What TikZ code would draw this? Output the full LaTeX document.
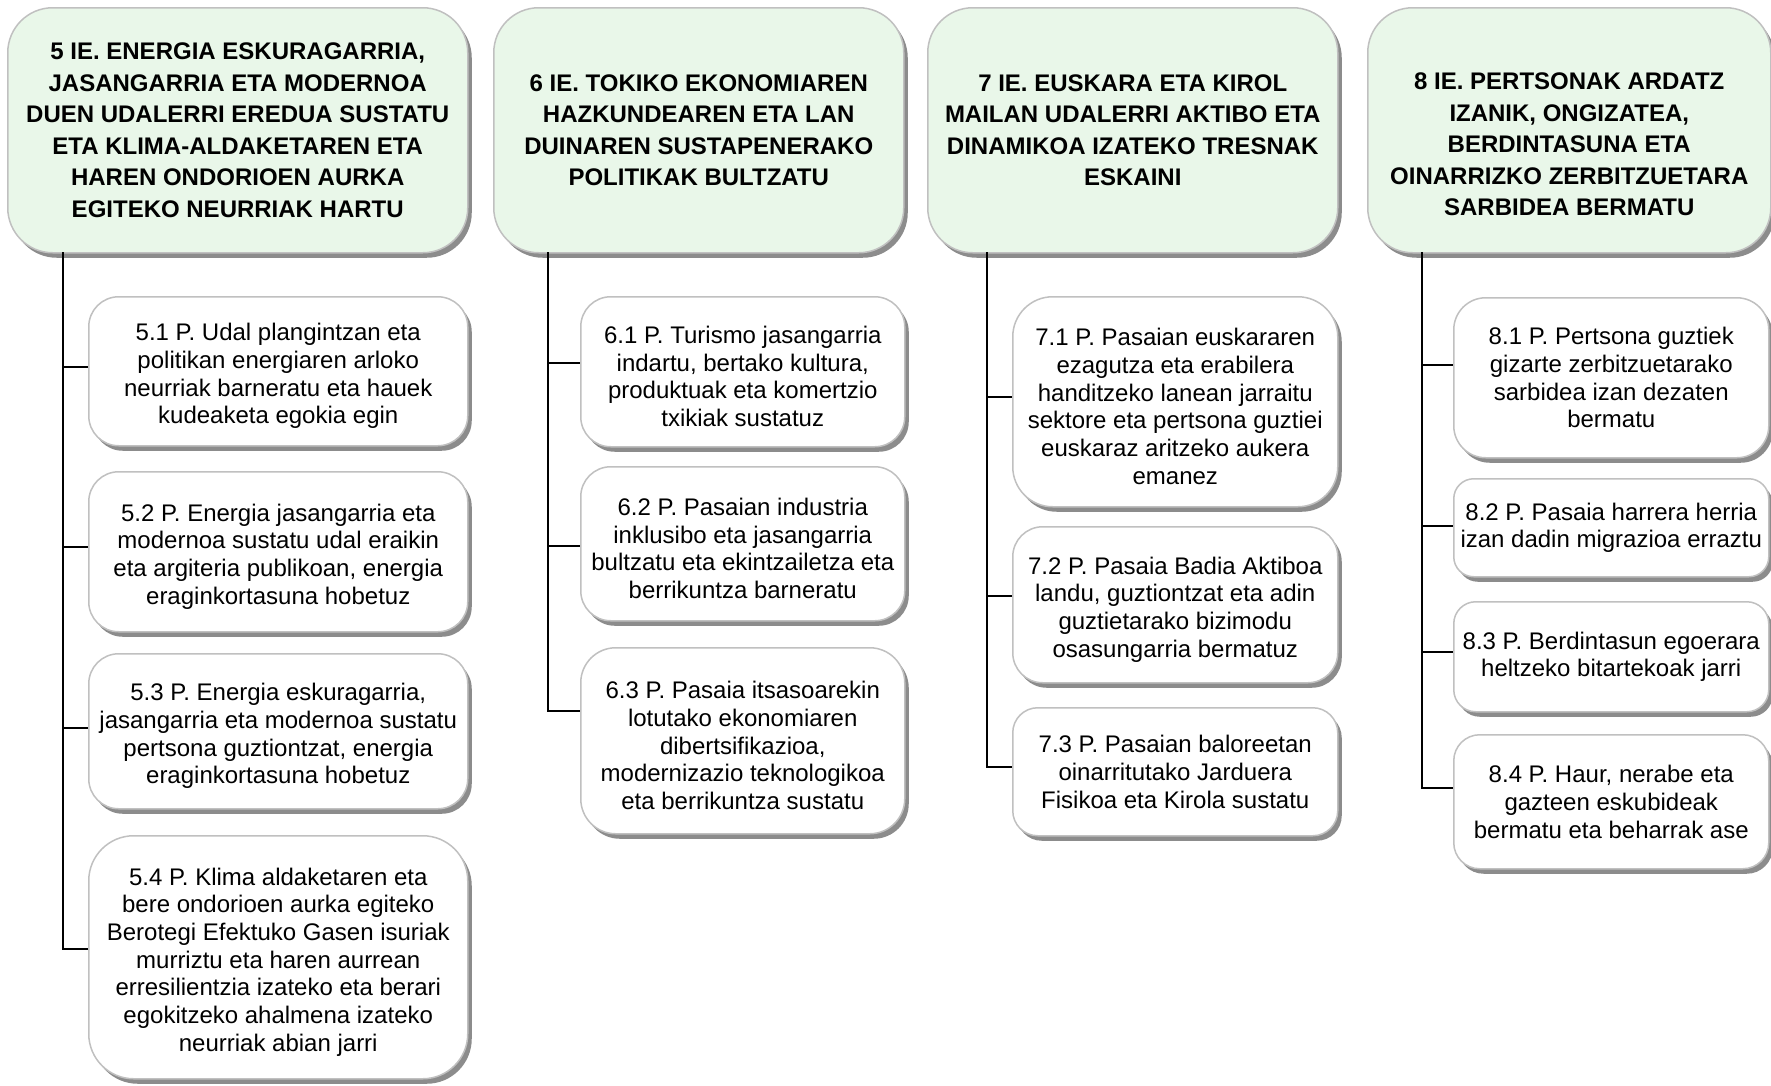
\documentclass[tikz,border=0pt]{standalone}
\usepackage{fontspec}
\setmainfont{Liberation Sans}
\usetikzlibrary{shadows}
\definecolor{hdrfill}{RGB}{233,247,233}
\definecolor{boxline}{RGB}{192,192,192}
\definecolor{shadowc}{RGB}{140,140,140}
% strut that lowers a box's text block slightly, as in the reference
\newcommand\lowtxt{\rule{0pt}{27pt}}
\tikzset{
  base/.style={draw=boxline, line width=1.5pt, align=center, inner sep=0pt, anchor=north west,
    drop shadow={shadow xshift=4pt, shadow yshift=-5pt, fill=shadowc, opacity=1}},
  hdr/.style={base, fill=hdrfill, rounded corners=45pt, font=\fontsize{24}{31.5}\selectfont\bfseries},
  pbox/.style={base, fill=white, font=\fontsize{24}{27.7}\selectfont},
  link/.style={line width=2pt, black}
}
\begin{document}
\begin{tikzpicture}[x=1pt, y=-1pt]
\useasboundingbox[fill=white] (0,0) rectangle (1771,1085);

% ---------- headers ----------
\node[hdr, minimum width=460pt, minimum height=245pt] (h5) at (7,7)
  {5 IE. ENERGIA ESKURAGARRIA,\\JASANGARRIA ETA MODERNOA\\DUEN UDALERRI EREDUA SUSTATU\\ETA KLIMA-ALDAKETAREN ETA\\HAREN ONDORIOEN AURKA\\EGITEKO NEURRIAK HARTU};
\node[hdr, minimum width=410pt, minimum height=245pt] (h6) at (493,7)
  {6 IE. TOKIKO EKONOMIAREN\\HAZKUNDEAREN ETA LAN\\DUINAREN SUSTAPENERAKO\\POLITIKAK BULTZATU};
\node[hdr, minimum width=410pt, minimum height=245pt] (h7) at (927,7)
  {7 IE. EUSKARA ETA KIROL\\MAILAN UDALERRI AKTIBO ETA\\DINAMIKOA IZATEKO TRESNAK\\ESKAINI};
\node[hdr, minimum width=403pt, minimum height=245pt] (h8) at (1367,7)
  {\rule{0pt}{45pt}8 IE. PERTSONAK ARDATZ\\IZANIK, ONGIZATEA,\\BERDINTASUNA ETA\\OINARRIZKO ZERBITZUETARA\\SARBIDEA BERMATU};

% ---------- column 5 ----------
\node[pbox, rounded corners=30pt, minimum width=379pt, minimum height=149pt] (p51) at (88,296)
  {\lowtxt 5.1 P. Udal plangintzan eta\\politikan energiaren arloko\\neurriak barneratu eta hauek\\kudeaketa egokia egin};
\node[pbox, rounded corners=30pt, minimum width=379pt, minimum height=160pt] (p52) at (88,471)
  {\lowtxt 5.2 P. Energia jasangarria eta\\modernoa sustatu udal eraikin\\eta argiteria publikoan, energia\\eraginkortasuna hobetuz};
\node[pbox, rounded corners=30pt, minimum width=379pt, minimum height=155pt] (p53) at (88,653)
  {\lowtxt 5.3 P. Energia eskuragarria,\\jasangarria eta modernoa sustatu\\pertsona guztiontzat, energia\\eraginkortasuna hobetuz};
\node[pbox, rounded corners=45pt, minimum width=379pt, minimum height=243pt] (p54) at (88,835)
  {\lowtxt 5.4 P. Klima aldaketaren eta\\bere ondorioen aurka egiteko\\Berotegi Efektuko Gasen isuriak\\murriztu eta haren aurrean\\erresilientzia izateko eta berari\\egokitzeko ahalmena izateko\\neurriak abian jarri};

% ---------- column 6 ----------
\node[pbox, rounded corners=30pt, minimum width=324pt, minimum height=150pt] (p61) at (580,296)
  {\lowtxt 6.1 P. Turismo jasangarria\\indartu, bertako kultura,\\produktuak eta komertzio\\txikiak sustatuz};
\node[pbox, rounded corners=30pt, minimum width=324pt, minimum height=154pt] (p62) at (580,466)
  {\lowtxt 6.2 P. Pasaian industria\\inklusibo eta jasangarria\\bultzatu eta ekintzailetza eta\\berrikuntza barneratu};
\node[pbox, rounded corners=35pt, minimum width=324pt, minimum height=186pt] (p63) at (580,647)
  {\lowtxt 6.3 P. Pasaia itsasoarekin\\lotutako ekonomiaren\\dibertsifikazioa,\\modernizazio teknologikoa\\eta berrikuntza sustatu};

% ---------- column 7 ----------
\node[pbox, rounded corners=40pt, minimum width=325pt, minimum height=210pt] (p71) at (1012,296)
  {\lowtxt 7.1 P. Pasaian euskararen\\ezagutza eta erabilera\\handitzeko lanean jarraitu\\sektore eta pertsona guztiei\\euskaraz aritzeko aukera\\emanez};
\node[pbox, rounded corners=30pt, minimum width=325pt, minimum height=156pt] (p72) at (1012,526)
  {\lowtxt 7.2 P. Pasaia Badia Aktiboa\\landu, guztiontzat eta adin\\guztietarako bizimodu\\osasungarria bermatuz};
\node[pbox, rounded corners=25pt, minimum width=325pt, minimum height=128pt] (p73) at (1012,707)
  {7.3 P. Pasaian baloreetan\\oinarritutako Jarduera\\Fisikoa eta Kirola sustatu};

% ---------- column 8 ----------
\node[pbox, rounded corners=32pt, minimum width=315pt, minimum height=160pt] (p81) at (1453,297)
  {8.1 P. Pertsona guztiek\\gizarte zerbitzuetarako\\sarbidea izan dezaten\\bermatu};
\node[pbox, rounded corners=20pt, minimum width=315pt, minimum height=98pt] (p82) at (1453,478)
  {8.2 P. Pasaia harrera herria\\izan dadin migrazioa erraztu};
\node[pbox, rounded corners=22pt, minimum width=315pt, minimum height=110pt] (p83) at (1453,601)
  {8.3 P. Berdintasun egoerara\\heltzeko bitartekoak jarri};
\node[pbox, rounded corners=26pt, minimum width=315pt, minimum height=134pt] (p84) at (1453,734)
  {8.4 P. Haur, nerabe eta\\gazteen eskubideak\\bermatu eta beharrak ase};

% ---------- connector anchor points ----------
\coordinate (s5) at (63,252);
\coordinate (s6) at (548,252);
\coordinate (s7) at (987,252);
\coordinate (s8) at (1422,252);

\coordinate (c51) at ([yshift=4.5pt]p51.west);
\coordinate (c52) at ([yshift=4.5pt]p52.west);
\coordinate (c53) at ([yshift=3.5pt]p53.west);
\coordinate (c54) at ([yshift=8pt]p54.west);
\coordinate (c61) at ([yshift=9pt]p61.west);
\coordinate (c62) at ([yshift=-2pt]p62.west);
\coordinate (c63) at ([yshift=30pt]p63.west);
\coordinate (c71) at ([yshift=4.5pt]p71.west);
\coordinate (c72) at ([yshift=9pt]p72.west);
\coordinate (c73) at ([yshift=4.5pt]p73.west);
\coordinate (c81) at ([yshift=13pt]p81.west);
\coordinate (c82) at ([yshift=2pt]p82.west);
\coordinate (c83) at ([yshift=5pt]p83.west);
\coordinate (c84) at ([yshift=14pt]p84.west);

% ---------- connectors ----------
\draw[link] (s5) |- (c54);
\draw[link] (s5 |- c51) -- (c51);
\draw[link] (s5 |- c52) -- (c52);
\draw[link] (s5 |- c53) -- (c53);

\draw[link] (s6) |- (c63);
\draw[link] (s6 |- c61) -- (c61);
\draw[link] (s6 |- c62) -- (c62);

\draw[link] (s7) |- (c73);
\draw[link] (s7 |- c71) -- (c71);
\draw[link] (s7 |- c72) -- (c72);

\draw[link] (s8) |- (c84);
\draw[link] (s8 |- c81) -- (c81);
\draw[link] (s8 |- c82) -- (c82);
\draw[link] (s8 |- c83) -- (c83);
\end{tikzpicture}
\end{document}
